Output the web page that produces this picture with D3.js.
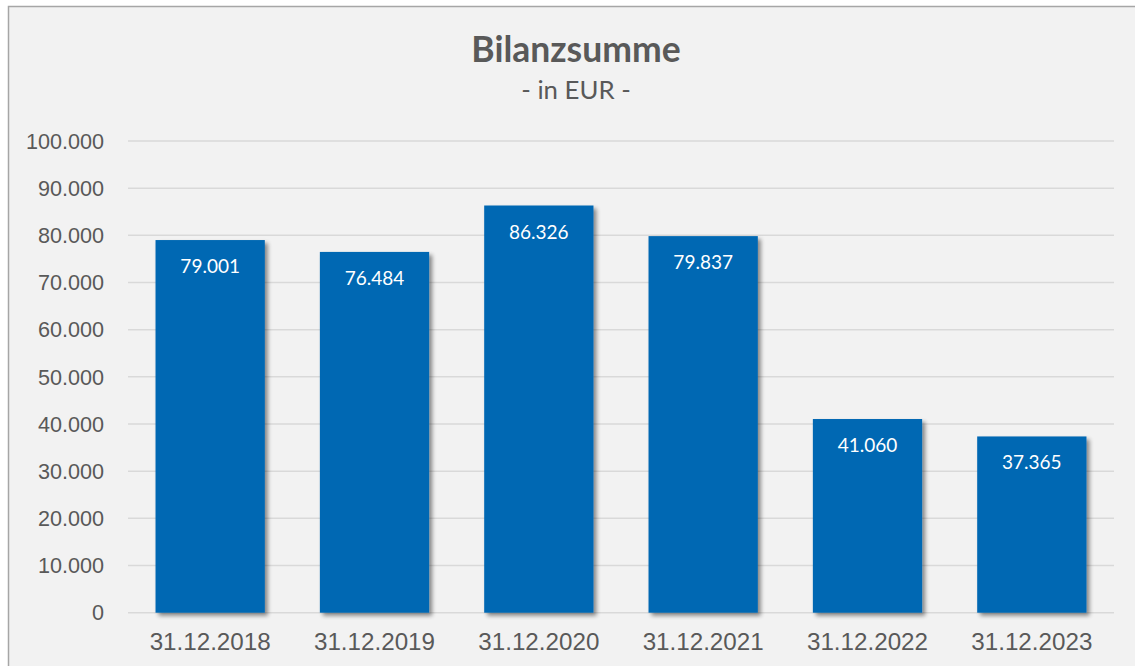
<!DOCTYPE html>
<html><head><meta charset="utf-8">
<script src="https://cdn.jsdelivr.net/npm/d3@7"></script>
<style>
html,body{margin:0;padding:0;background:#fff;}
svg{display:block;}
.ax{font-family:'Liberation Sans', Arial, sans-serif;}
.cal{font-family:Lato, Carlito, sans-serif;}
</style></head>
<body>
<script>
const categories = ["31.12.2018","31.12.2019","31.12.2020","31.12.2021","31.12.2022","31.12.2023"];
const values = [79001, 76484, 86326, 79837, 41060, 37365];
const valueLabels = ["79.001","76.484","86.326","79.837","41.060","37.365"];
const yTicks = [0,10000,20000,30000,40000,50000,60000,70000,80000,90000,100000];
const yTickLabels = ["0","10.000","20.000","30.000","40.000","50.000","60.000","70.000","80.000","90.000","100.000"];
const title = "Bilanzsumme";
const subtitle = "- in EUR -";

const W = 1135, H = 666;
const svg = d3.select("body").append("svg").attr("width", W).attr("height", H);

const defs = svg.append("defs");
const f = defs.append("filter").attr("id","sh").attr("x","-20%").attr("y","-20%").attr("width","150%").attr("height","150%");
f.append("feGaussianBlur").attr("in","SourceAlpha").attr("stdDeviation",2.2);
f.append("feOffset").attr("dx",3).attr("dy",3).attr("result","ob");
f.append("feComponentTransfer").append("feFuncA").attr("type","linear").attr("slope",0.45);
const m = f.append("feMerge"); m.append("feMergeNode"); m.append("feMergeNode").attr("in","SourceGraphic");

svg.append("rect").attr("x",8.5).attr("y",6.5).attr("width",W).attr("height",H).attr("fill","#f2f2f2").attr("stroke","#a6a6a6").attr("stroke-width",1.5);

const x = d3.scaleBand().domain(categories).range([128,1114]).paddingInner(0.335).paddingOuter(0.1675);
const y = d3.scaleLinear().domain([0,100000]).range([612.7,141]);

svg.append("g").selectAll("line").data(yTicks).join("line")
  .attr("x1",128).attr("x2",1114).attr("y1",d=>y(d)).attr("y2",d=>y(d))
  .attr("stroke","#d9d9d9").attr("stroke-width",1.5);

svg.append("g").selectAll("text").data(yTicks).join("text")
  .attr("class","ax")
  .attr("x",104).attr("y",d=>y(d)).attr("dy","0.36em").attr("text-anchor","end")
  .attr("font-size",21.6).attr("fill","#595959")
  .text((d,i)=>yTickLabels[i]);

svg.append("g").selectAll("rect").data(values).join("rect")
  .attr("x",(d,i)=>x(categories[i])).attr("width",x.bandwidth())
  .attr("y",d=>y(d)).attr("height",d=>y(0)-y(d))
  .attr("fill","#0068b3").attr("filter","url(#sh)");

svg.append("g").selectAll("text").data(values).join("text")
  .attr("class","cal")
  .attr("x",(d,i)=>x(categories[i])+x.bandwidth()/2).attr("y",d=>y(d)+33)
  .attr("text-anchor","middle").attr("font-size",19).attr("fill","#ffffff")
  .text((d,i)=>valueLabels[i]);

svg.append("g").selectAll("text").data(categories).join("text")
  .attr("class","ax")
  .attr("x",d=>x(d)+x.bandwidth()/2).attr("y",650)
  .attr("text-anchor","middle").attr("font-size",24.2).attr("fill","#595959")
  .text(d=>d);

svg.append("text").attr("class","cal").attr("x",576).attr("y",62).attr("text-anchor","middle")
  .attr("font-weight","bold").attr("font-size",35.5).attr("fill","#595959").text(title);
svg.append("text").attr("class","cal").attr("x",576).attr("y",99).attr("text-anchor","middle")
  .attr("font-size",25.8).attr("fill","#595959").text(subtitle);
</script>
</body></html>
